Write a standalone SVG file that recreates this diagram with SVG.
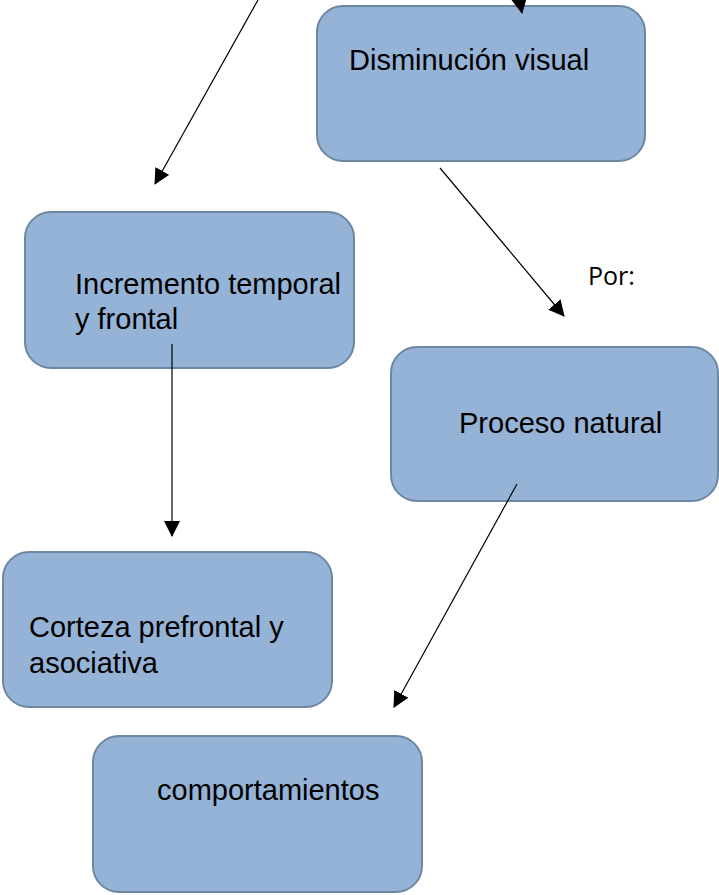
<svg xmlns="http://www.w3.org/2000/svg" width="719" height="895" viewBox="0 0 719 895">
<style>
.box{fill:#95b3d6;stroke:#6d87a2;stroke-width:2}
.lbl{font-family:"Liberation Sans",Arial,sans-serif;font-size:29px;fill:#000}
.por{font-family:"Open Sans","Liberation Sans",sans-serif;font-size:25px;fill:#000}
.con{stroke:#000;stroke-width:1.2;fill:none;marker-end:url(#ah)}
</style>
<defs>
<marker id="ah" viewBox="0 0 16 16" refX="15" refY="8" markerWidth="16" markerHeight="16" markerUnits="userSpaceOnUse" orient="auto">
<path d="M0,0 L16,8 L0,16 Z" fill="#000"/>
</marker>
</defs>
<rect width="719" height="895" fill="#fff"/>
<g id="n-disminucion">
<rect class="box" x="317" y="6" width="328" height="155" rx="26"/>
<text class="lbl" x="349" y="70">Disminución visual</text>
</g>
<g id="n-incremento">
<rect class="box" x="25" y="212" width="329" height="156" rx="26"/>
<text class="lbl" x="75" y="294">Incremento temporal</text>
<text class="lbl" x="75" y="329">y frontal</text>
</g>
<g id="n-proceso">
<rect class="box" x="391" y="347" width="327" height="154" rx="26"/>
<text class="lbl" x="459" y="433">Proceso natural</text>
</g>
<g id="n-corteza">
<rect class="box" x="3" y="552" width="329" height="155" rx="26"/>
<text class="lbl" x="29" y="637">Corteza prefrontal y</text>
<text class="lbl" x="29" y="673">asociativa</text>
</g>
<g id="n-comportamientos">
<rect class="box" x="93" y="736" width="329" height="156" rx="26"/>
<text class="lbl" x="157" y="800">comportamientos</text>
</g>
<g id="connectors">
<line class="con" x1="258" y1="0" x2="155" y2="184"/>
<line class="con" x1="508" y1="-60" x2="522" y2="13"/>
<line class="con" x1="440" y1="168" x2="564" y2="316"/>
<line class="con" x1="172" y1="344" x2="172" y2="536"/>
<line class="con" x1="517" y1="484" x2="394" y2="707"/>
</g>
<text class="por" x="588" y="285">Por:</text>
</svg>
